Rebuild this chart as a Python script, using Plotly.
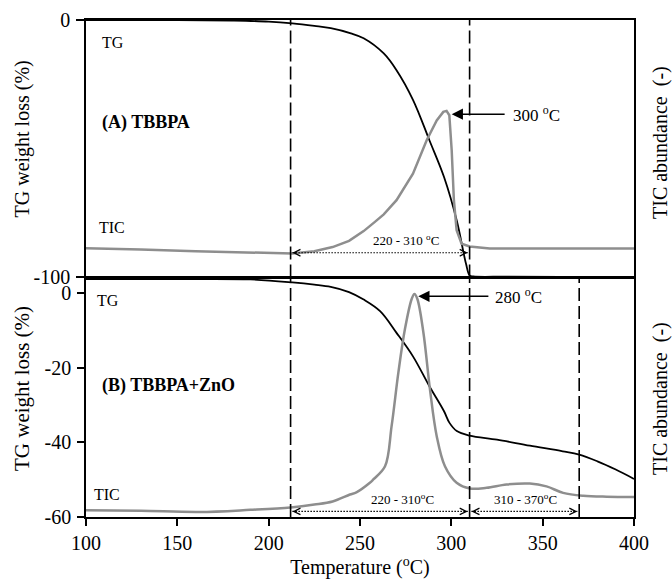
import plotly.graph_objects as go

# ---------------- data ----------------
# Panel A (TBBPA) - TG weight loss (%)
temp_a_tg = [100, 150, 180, 200, 213, 225, 234, 245, 252, 263, 270, 279, 288, 296, 303, 308, 310, 312, 330, 360, 400]
tg_a = [0, 0, -0.2, -0.6, -1.3, -2.3, -3.2, -5.2, -7.1, -13, -19.5, -31, -46.7, -61, -78, -94.6, -99.2, -99.6, -99.7, -99.8, -99.9]

# Panel A - TIC abundance (relative, 0-100 of panel height)
temp_a_tic = [100, 130, 160, 190, 213, 225, 235, 244, 252, 258, 263, 270, 279, 286.5, 292, 295.6, 297.4,
              298.9, 300.2, 301.4, 302.9, 305.6, 310, 321, 350, 380, 400]
tic_a = [11.3, 10.9, 10.2, 9.8, 9.3, 10.2, 11.8, 14.2, 18, 21.5, 24.5, 30, 40.3, 53.3, 61, 64.3, 64.7,
         63, 49.4, 30, 18.3, 13.1, 12, 11.2, 11.2, 11.2, 11.2]

# Panel B (TBBPA+ZnO) - TG weight loss (%)
temp_b_tg = [100, 150, 190, 213, 225, 234, 244, 252, 261, 270, 279, 288, 296, 299, 303, 310, 325, 343, 361, 370, 380, 390, 400]
tg_b = [3.7, 3.7, 3.6, 2.8, 2.2, 1.6, 0.2, -1.8, -4.9, -10.7, -17, -25, -31.7, -34.8, -37, -38.2, -39.3, -40.9, -42.4, -43.3, -45.1, -47.3, -49.8]

# Panel B - TIC abundance (relative)
temp_b_tic = [100, 130, 162, 190, 212, 225, 235, 244.5, 248, 255.4, 257.3, 263.7, 267.3, 271, 274.6, 278.3, 279.8,
              281.4, 284.7, 288.3, 292, 296.5, 302.9, 310.2, 319.3, 330.2, 343, 352.1, 361.2, 372.2, 385, 400]
tic_b = [2.8, 2.6, 2.1, 3.0, 4.0, 5.2, 6.5, 9.4, 10.3, 14.3, 15.7, 21.2, 38, 60.4, 78.6, 91.2, 93.3,
         91.2, 77.2, 53.4, 33.8, 21.2, 14.3, 11.9, 12.2, 13.6, 14, 12.8, 10.1, 8.9, 8.5, 8.4]

# reference temperatures
bounds_a = [212, 310]
bounds_b = [212, 310, 370]
peak_a = 300
peak_b = 281
range_a = (213, 309)
ranges_b = [(213, 309), (311, 369)]

x_ticks = [100, 150, 200, 250, 300, 350, 400]
ytick_a = [0, -100]
ytick_b = [0, -20, -40, -60]

FONT = "Liberation Serif"
GRAY = "#8e8e8e"

fig = go.Figure()

fig.add_trace(go.Scatter(x=temp_a_tg, y=tg_a, mode="lines", line=dict(color="black", width=1.8),
                         xaxis="x", yaxis="y", line_shape="spline"))
fig.add_trace(go.Scatter(x=temp_a_tic, y=tic_a, mode="lines", line=dict(color=GRAY, width=2.5),
                         xaxis="x", yaxis="y3"))
fig.add_trace(go.Scatter(x=temp_b_tg, y=tg_b, mode="lines", line=dict(color="black", width=1.8),
                         xaxis="x2", yaxis="y2", line_shape="spline"))
fig.add_trace(go.Scatter(x=temp_b_tic, y=tic_b, mode="lines", line=dict(color=GRAY, width=2.5),
                         xaxis="x2", yaxis="y4", line_shape="spline"))

axis_common = dict(showline=True, linecolor="black", linewidth=1.5, showgrid=False, zeroline=False,
                   automargin=False,
                   tickcolor="black", tickwidth=1.5, tickfont=dict(size=20, family=FONT, color="black"))
right_common = dict(range=[0, 100], showticklabels=False, ticks="", showgrid=False, zeroline=False,
                    showline=False, automargin=False)

fig.update_layout(
    template="none",
    width=672, height=579,
    margin=dict(l=86, r=38, t=20, b=62),
    plot_bgcolor="white", paper_bgcolor="white",
    showlegend=False,
    font=dict(family=FONT, size=20, color="black"),
    xaxis=dict(domain=[0, 1], anchor="y", range=[100, 400], showticklabels=False, ticks="",
               mirror=True, **axis_common),
    yaxis=dict(domain=[0.482, 1], anchor="x", range=[-100, 0], tickvals=ytick_a,
               ticktext=[str(v) for v in ytick_a], ticks="outside", ticklen=8, mirror=True,
               ticklabelstandoff=2, **axis_common),
    yaxis3=dict(overlaying="y", side="right", anchor="x", **right_common),
    xaxis2=dict(domain=[0, 1], anchor="y2", range=[100, 400], tickvals=x_ticks, ticks="outside",
                ticklen=7, mirror=True,
                title=dict(text="Temperature (<sup>o</sup>C)", standoff=6, font=dict(size=20)), **axis_common),
    yaxis2=dict(domain=[0, 0.481], anchor="x2", range=[-60, 4], tickvals=ytick_b,
                ticktext=[str(v) for v in ytick_b], ticks="outside", ticklen=7, mirror=True,
                ticklabelstandoff=2, **axis_common),
    yaxis4=dict(overlaying="y2", side="right", anchor="x2", **right_common),
)

# axis titles (placed as rotated text, as in the original)
def axis_title(x, y, s, size):
    fig.add_annotation(x=x, y=y, xref="paper", yref="paper", text=s, showarrow=False, textangle=-90,
                       xanchor="center", yanchor="middle", font=dict(size=size, family=FONT, color="black"))

axis_title(-0.1168, 0.7616, "TG weight loss (%)", 20)
axis_title(-0.1168, 0.2596, "TG weight loss (%)", 21)
axis_title(1.0474, 0.7545, "TIC abundance&nbsp; (-)", 20)
axis_title(1.0474, 0.2394, "TIC abundance&nbsp; (-)", 20)

# dashed vertical boundaries
dash_line = dict(color="black", width=1.6, dash="13px,5px")
for b in bounds_a:
    fig.add_shape(type="line", xref="x", yref="y domain", x0=b, x1=b, y0=0, y1=1, line=dash_line)
for b in bounds_b:
    fig.add_shape(type="line", xref="x2", yref="y2 domain", x0=b, x1=b, y0=0, y1=1, line=dash_line)

# dotted double arrows
def dotted_range(x0, x1, y, xref, yref):
    fig.add_shape(type="line", xref=xref, yref=yref, x0=x0, x1=x1, y0=y, y1=y,
                  line=dict(color="black", width=1.2, dash="1.5px,1.5px"))
    for tip, tail in ((x0, x0 + 3), (x1, x1 - 3)):
        fig.add_annotation(x=tip, y=y, ax=tail, ay=y, xref=xref, yref=yref, axref=xref, ayref=yref,
                           text="", showarrow=True, arrowhead=5, arrowsize=1.3, arrowwidth=1,
                           arrowcolor="black")

dotted_range(range_a[0], range_a[1], -90.4, "x", "y")
for r in ranges_b:
    dotted_range(r[0], r[1], -58.5, "x2", "y2")

def txt(x, y, s, xref, yref, size, xanchor="left", yanchor="middle"):
    fig.add_annotation(x=x, y=y, xref=xref, yref=yref, text=s, showarrow=False,
                       xanchor=xanchor, yanchor=yanchor, font=dict(size=size, family=FONT, color="black"))

# Panel A texts
txt(107.7, -8.9, "TG", "x", "y", 16)
txt(106, -80.5, "TIC", "x", "y", 16)
txt(107.7, -39.7, "<b>(A) TBBPA</b>", "x", "y", 18)
txt(275, -89.2, "220 - 310 <sup>o</sup>C", "x", "y", 13, xanchor="center", yanchor="bottom")
fig.add_annotation(x=peak_a + 0.2, y=63.4, ax=330, ay=63.4, xref="x", yref="y3", axref="x", ayref="y3",
                   text="", showarrow=True, arrowhead=2, arrowsize=1.5, arrowwidth=1.5, arrowcolor="black")
txt(332.6, 63.4, "300 <sup>o</sup>C", "x", "y3", 17)

# Panel B texts
txt(104.9, -2.0, "TG", "x2", "y2", 16)
txt(103.3, -54.0, "TIC", "x2", "y2", 16)
txt(107.7, -24.8, "<b>(B) TBBPA+ZnO</b>", "x2", "y2", 18)
txt(273.2, -57.8, "220 - 310<sup>o</sup>C", "x2", "y2", 13, xanchor="center", yanchor="bottom")
txt(340.8, -57.8, "310 - 370<sup>o</sup>C", "x2", "y2", 13, xanchor="center", yanchor="bottom")
fig.add_annotation(x=peak_b + 0.9, y=92.3, ax=321.1, ay=92.3, xref="x2", yref="y4", axref="x2", ayref="y4",
                   text="", showarrow=True, arrowhead=2, arrowsize=1.5, arrowwidth=1.5, arrowcolor="black")
txt(322.8, 92.3, "280 <sup>o</sup>C", "x2", "y4", 17)

fig.write_html("out.html")
